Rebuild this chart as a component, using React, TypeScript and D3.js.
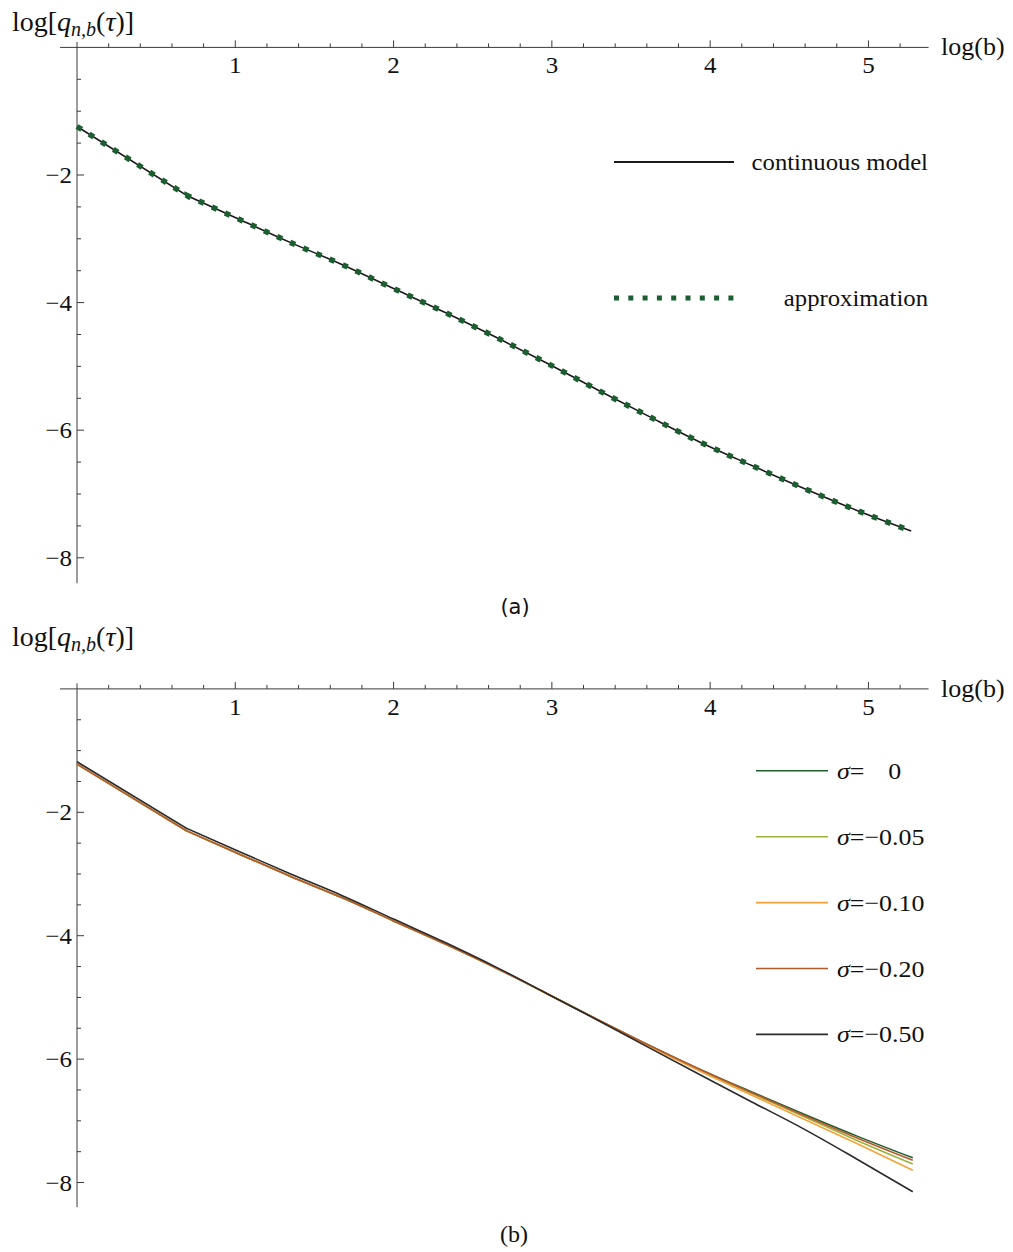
import React from 'react';
import * as d3 from 'd3';

// ---- data ----
const X_MAJOR_TICKS = [1, 2, 3, 4, 5];
const Y_MAJOR_TICKS = [-2, -4, -6, -8];
const Y_TICK_LABELS = ['−2', '−4', '−6', '−8'];

// Panel (a)
const LOGB_A = [0, 0.693, 1.02, 1.35, 1.68, 2.0, 2.33, 2.66, 2.97, 3.29, 3.61, 3.93, 4.26, 4.59, 4.92, 5.27];
const CONTINUOUS_A = [-1.24, -2.32, -2.69, -3.06, -3.41, -3.78, -4.16, -4.56, -4.95, -5.37, -5.78, -6.18, -6.55, -6.91, -7.25, -7.58];
const APPROX_A = [-1.24, -2.32, -2.69, -3.06, -3.41, -3.78, -4.16, -4.56, -4.95, -5.37, -5.78, -6.18, -6.55, -6.91, -7.25, -7.58];

// Panel (b)
const LOGB_B = [0, 0.693, 1.02, 1.35, 1.68, 2.0, 2.33, 2.66, 2.97, 3.29, 3.61, 3.93, 4.26, 4.59, 4.92, 5.28];
const SIGMA_0 = [-1.22, -2.3, -2.67, -3.04, -3.39, -3.76, -4.14, -4.54, -4.94, -5.36, -5.77, -6.16, -6.53, -6.89, -7.24, -7.6];
const SIGMA_005 = [-1.22, -2.3, -2.67, -3.04, -3.39, -3.76, -4.14, -4.54, -4.94, -5.36, -5.78, -6.175, -6.555, -6.93, -7.31, -7.7];
const SIGMA_010 = [-1.22, -2.3, -2.67, -3.04, -3.39, -3.76, -4.14, -4.54, -4.94, -5.365, -5.785, -6.19, -6.58, -6.97, -7.36, -7.8];
const SIGMA_020 = [-1.22, -2.3, -2.67, -3.04, -3.39, -3.76, -4.14, -4.54, -4.94, -5.36, -5.77, -6.16, -6.54, -6.91, -7.27, -7.64];
const SIGMA_050 = [-1.18, -2.26, -2.63, -3.0, -3.355, -3.73, -4.115, -4.525, -4.94, -5.37, -5.81, -6.245, -6.69, -7.13, -7.61, -8.15];
const SIGMA_SERIES = [SIGMA_0, SIGMA_005, SIGMA_010, SIGMA_020, SIGMA_050];
const SIGMA_LABELS = ['0', '−0.05', '−0.10', '−0.20', '−0.50'];
const SIGMA_COLORS = ['#1f5c2e', '#9db23e', '#f7a23a', '#b65a2c', '#2a2a2a'];
const DRAW_ORDER = [0, 1, 2, 3, 4];

const SERIF = '"Liberation Serif", "Times New Roman", serif';
const SANS = '"DejaVu Sans", "Noto Sans", sans-serif';

const xScale = d3.scaleLinear().domain([0, 5.38]).range([77, 928.6]);
const yScaleA = d3.scaleLinear().domain([0, -8.4]).range([47.4, 583.3]);
const yScaleB = d3.scaleLinear().domain([0, -8.4]).range([688.9, 1207.2]);

function curvePath(xs: number[], ys: number[], yS: d3.ScaleLinear<number, number>) {
  const pts: [number, number][] = xs.map((x, i) => [xScale(x), yS(ys[i])]);
  const head = `M${pts[0][0]},${pts[0][1]}L${pts[1][0]},${pts[1][1]}`;
  const rest = d3.line().curve(d3.curveMonotoneX)(pts.slice(1)) || '';
  return head + rest.replace(/^M/, 'L');
}

function T(props: { x: number; y: number; size: number; sx?: number; anchor?: string; family?: string; children: any }) {
  const { x, y, size, sx = 1, anchor = 'start', family = SERIF, children } = props;
  return (
    <text transform={`translate(${x},${y}) scale(${sx},1)`} fontSize={size} fontFamily={family} textAnchor={anchor as any} fill="#111">
      {children}
    </text>
  );
}

function Axes({ yS, labelY }: { yS: d3.ScaleLinear<number, number>; labelY: number }) {
  const y0 = yS(0);
  const x0 = xScale(0);
  const minorX = d3.range(1, 27).map((i) => i * 0.2).filter((v) => Math.abs(v - Math.round(v)) > 1e-6);
  const minorY = d3.range(1, 17).map((i) => -i * 0.5).filter((v) => !Y_MAJOR_TICKS.includes(v));
  const axisColor = '#3a3a3a';
  return (
    <g>
      <line x1={60} x2={xScale(5.38)} y1={y0} y2={y0} stroke={axisColor} strokeWidth={1} />
      <line x1={x0} x2={x0} y1={y0 - 5.5} y2={yS(-8.4)} stroke={axisColor} strokeWidth={1} />
      {minorX.map((v) => (
        <line key={'mx' + v} x1={xScale(v)} x2={xScale(v)} y1={y0} y2={y0 - 4} stroke={axisColor} strokeWidth={1} />
      ))}
      {X_MAJOR_TICKS.map((v) => (
        <g key={'Mx' + v}>
          <line x1={xScale(v)} x2={xScale(v)} y1={y0} y2={y0 - 7} stroke={axisColor} strokeWidth={1} />
          <T x={xScale(v)} y={y0 + 26} size={24} sx={1.04} anchor="middle">{String(v)}</T>
        </g>
      ))}
      {minorY.map((v) => (
        <line key={'my' + v} x1={x0} x2={x0 + 4} y1={yS(v)} y2={yS(v)} stroke={axisColor} strokeWidth={1} />
      ))}
      {Y_MAJOR_TICKS.map((v, i) => (
        <g key={'My' + v}>
          <line x1={x0} x2={x0 + 7} y1={yS(v)} y2={yS(v)} stroke={axisColor} strokeWidth={1} />
          <T x={72} y={yS(v) + 8} size={24} sx={1.04} anchor="end">{Y_TICK_LABELS[i]}</T>
        </g>
      ))}
      <T x={941} y={y0 + 8} size={26}>log(b)</T>
      <text x={12} y={labelY} fontSize={28} fontFamily={SERIF} fill="#111">
        log[<tspan fontStyle="italic">q</tspan>
        <tspan fontStyle="italic" fontSize={20} dy={5}>n,b</tspan>
        <tspan dy={-5}>(</tspan>
        <tspan fontStyle="italic">τ</tspan>)]
      </text>
    </g>
  );
}

export default function App() {
  return (
    <svg width={1013} height={1252} style={{ position: 'absolute', left: 0, top: 0, background: '#fff' }}>
      <rect x={0} y={0} width={1013} height={1252} fill="#fff" />
      {/* Panel (a) */}
      <Axes yS={yScaleA} labelY={31} />
      <path d={curvePath(LOGB_A, CONTINUOUS_A, yScaleA)} fill="none" stroke="#1a1a1a" strokeWidth={1.6} />
      <path d={curvePath(LOGB_A, APPROX_A, yScaleA)} fill="none" stroke="#1b5e2f" strokeWidth={5.5} strokeDasharray="5.5 8.8" />
      <line x1={614} x2={734} y1={162} y2={162} stroke="#1a1a1a" strokeWidth={1.8} />
      <T x={928} y={170} size={24} sx={1.03} anchor="end">continuous model</T>
      <line x1={614} x2={734} y1={298} y2={298} stroke="#1b5e2f" strokeWidth={5} strokeDasharray="5 9.3" />
      <T x={928} y={306} size={24} sx={1.03} anchor="end">approximation</T>
      <T x={515} y={614} size={21} anchor="middle" family={SANS}>(a)</T>

      {/* Panel (b) */}
      <Axes yS={yScaleB} labelY={646} />
      {DRAW_ORDER.map((i) => (
        <path key={'s' + i} d={curvePath(LOGB_B, SIGMA_SERIES[i], yScaleB)} fill="none" stroke={SIGMA_COLORS[i]} strokeWidth={1.6} />
      ))}
      {SIGMA_LABELS.map((lab, i) => {
        const ly = 770.8 + i * 65.9;
        return (
          <g key={'lg' + i}>
            <line x1={756} x2={828} y1={ly} y2={ly} stroke={SIGMA_COLORS[i]} strokeWidth={1.6} />
            <text transform={`translate(837,${ly + 8}) scale(1.08,1)`} fontSize={24} fontFamily={SERIF} fill="#111">
              <tspan fontStyle="italic">σ</tspan>=
              {i === 0 ? <tspan dx={22}>{lab}</tspan> : lab}
            </text>
          </g>
        );
      })}
      <T x={514} y={1242} size={24} anchor="middle">(b)</T>
    </svg>
  );
}
